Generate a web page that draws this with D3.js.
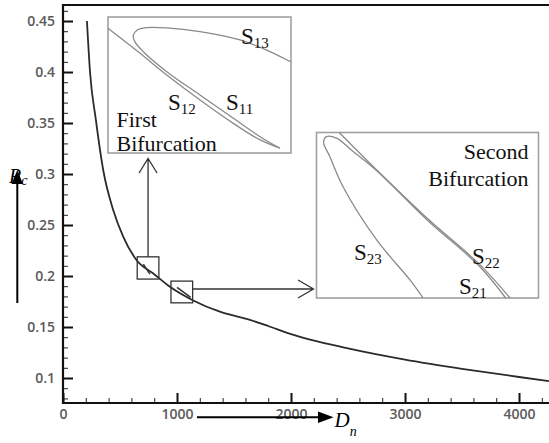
<!DOCTYPE html>
<html>
<head>
<meta charset="utf-8">
<title>Rc vs Dn bifurcation</title>
<script src="https://d3js.org/d3.v7.min.js"></script>
<style>
  body { margin: 0; background: #fff; }
  svg { display: block; }
</style>
</head>
<body>
<div id="chart"></div>
<script>
// main curve
const dn = [210, 237, 289, 353, 441, 529, 646, 792, 938, 1142, 1376, 1610, 1800, 2000, 2500, 3000, 3500, 4000, 4263];
const rc = [0.450, 0.400, 0.3526, 0.3037, 0.2645, 0.2384, 0.2155, 0.2025, 0.1894, 0.176, 0.165, 0.158, 0.151, 0.143, 0.129, 0.118, 0.109, 0.101, 0.097];

const xTickLabels = ["0", "1000", "2000", "3000", "4000"];
const yTickLabels = ["0.1", "0.15", "0.2", "0.25", "0.3", "0.35", "0.4", "0.45"];

// zoom windows on the main curve (Dn range, Rc range)
const box1Dn = [651, 841], box1Rc = [0.197, 0.2188];
const box2Dn = [947, 1137], box2Rc = [0.1737, 0.195];
// short side branch drawn inside each window
const spur1Dn = [704, 763], spur1Rc = [0.2117, 0.2019];
const spur2Dn = [1000, 1120], spur2Rc = [0.1888, 0.1790];

// inset curves in inset-local units (0..1 across, 0..1 down)
const in1LoopU = [0.998, 0.867, 0.721, 0.503, 0.321, 0.21, 0.16, 0.138, 0.148, 0.193, 0.321, 0.503, 0.683, 0.831, 0.94];
const in1LoopV = [0.329, 0.243, 0.169, 0.108, 0.080, 0.078, 0.095, 0.135, 0.185, 0.255, 0.402, 0.574, 0.743, 0.880, 0.965];
const in1LineU = [0.0, 0.175, 0.321, 0.503, 0.685, 0.831, 0.94];
const in1LineV = [0.083, 0.267, 0.426, 0.610, 0.782, 0.904, 0.965];

const in2LineU = [0.102, 0.271, 0.5, 0.737, 0.872];
const in2LineV = [0.0, 0.226, 0.52, 0.80, 1.0];
const in2LoopU = [0.48, 0.421, 0.271, 0.119, 0.060, 0.032, 0.045, 0.09, 0.165, 0.275, 0.5, 0.735, 0.852];
const in2LoopV = [1.0, 0.891, 0.649, 0.326, 0.145, 0.06, 0.025, 0.034, 0.115, 0.235, 0.53, 0.81, 1.0];

const width = 549, height = 443;
const svg = d3.select("#chart").append("svg")
    .attr("width", width)
    .attr("height", height);

const x = d3.scaleLinear().domain([0, 4263]).range([63, 549]);
const y = d3.scaleLinear().domain([0.0755, 0.4657]).range([403, 5]);

const tickFont = "'Open Sans', sans-serif";
const serif = "'Liberation Serif', 'Times New Roman', serif";

// minor ticks
const xMinor = d3.range(0, 4201, 200).filter(d => d % 1000 !== 0);
const yMinor = d3.range(8, 47).map(d => d / 100).filter(d => Math.round(d * 100) % 5 !== 0);

svg.append("g")
    .attr("transform", "translate(0,403)")
    .call(d3.axisBottom(x).tickValues(xMinor).tickSize(-5).tickFormat(""))
    .call(g => g.select(".domain").remove())
    .selectAll("line").attr("stroke", "#222").attr("stroke-width", 1);

svg.append("g")
    .attr("transform", "translate(63,0)")
    .call(d3.axisLeft(y).tickValues(yMinor).tickSize(-5).tickFormat(""))
    .call(g => g.select(".domain").remove())
    .selectAll("line").attr("stroke", "#222").attr("stroke-width", 1);

// major ticks + labels
const gx = svg.append("g")
    .attr("transform", "translate(0,403)")
    .call(d3.axisBottom(x).tickValues([0, 1000, 2000, 3000, 4000])
        .tickSize(-10).tickPadding(6)
        .tickFormat((d, i) => xTickLabels[i]));
gx.select(".domain").remove();
gx.selectAll("line").attr("stroke", "#111").attr("stroke-width", 2);
gx.selectAll("text").attr("font-family", tickFont).attr("font-size", 14)
    .attr("font-weight", 600).attr("fill", "#5a5a5a");

const gy = svg.append("g")
    .attr("transform", "translate(63,0)")
    .call(d3.axisLeft(y).tickValues([0.1, 0.15, 0.2, 0.25, 0.3, 0.35, 0.4, 0.45])
        .tickSize(-10).tickPadding(8)
        .tickFormat((d, i) => yTickLabels[i]));
gy.select(".domain").remove();
gy.selectAll("line").attr("stroke", "#111").attr("stroke-width", 2);
gy.selectAll("text").attr("font-family", tickFont).attr("font-size", 14)
    .attr("font-weight", 600).attr("fill", "#5a5a5a");

// frame (right side falls outside the picture)
svg.append("path")
    .attr("d", "M552,5H63V403H552")
    .attr("fill", "none")
    .attr("stroke", "#111")
    .attr("stroke-width", 2.2);

// main curve
const pts = dn.map((d, i) => [d, rc[i]]);
svg.append("path")
    .datum(pts)
    .attr("fill", "none")
    .attr("stroke", "#2b2b2b")
    .attr("stroke-width", 1.8)
    .attr("d", d3.line().x(d => x(d[0])).y(d => y(d[1])).curve(d3.curveMonotoneX));

// spurs
[[spur1Dn, spur1Rc], [spur2Dn, spur2Rc]].forEach(([a, b]) => {
  svg.append("path")
    .datum(a.map((d, i) => [d, b[i]]))
    .attr("fill", "none")
    .attr("stroke", "#333")
    .attr("stroke-width", 1.6)
    .attr("d", d3.line().x(d => x(d[0])).y(d => y(d[1])));
});

// zoom windows
[[box1Dn, box1Rc], [box2Dn, box2Rc]].forEach(([a, b]) => {
  svg.append("rect")
    .attr("x", x(a[0])).attr("y", y(b[1]))
    .attr("width", x(a[1]) - x(a[0]))
    .attr("height", y(b[0]) - y(b[1]))
    .attr("fill", "none")
    .attr("stroke", "#333")
    .attr("stroke-width", 1.3);
});

// arrows from windows to insets
const b1cx = x((box1Dn[0] + box1Dn[1]) / 2), b1top = y(box1Rc[1]);
svg.append("path")
    .attr("d", `M${b1cx},${b1top}V158.5 M${b1cx - 9},173 L${b1cx},158.5 L${b1cx + 9},173`)
    .attr("fill", "none").attr("stroke", "#333").attr("stroke-width", 1.3);

const b2right = x(box2Dn[1]), b2cy = 289;
svg.append("path")
    .attr("d", `M${b2right},${b2cy}H313.5 M298,280 L313.5,${b2cy} L298,298`)
    .attr("fill", "none").attr("stroke", "#333").attr("stroke-width", 1.3);

// insets
function inset(x0, y0, x1, y1, curves) {
  const u = d3.scaleLinear().domain([0, 1]).range([x0, x1]);
  const v = d3.scaleLinear().domain([0, 1]).range([y0, y1]);
  const g = svg.append("g");
  g.append("rect")
      .attr("x", x0).attr("y", y0)
      .attr("width", x1 - x0).attr("height", y1 - y0)
      .attr("fill", "#fff")
      .attr("stroke", "#a0a0a0")
      .attr("stroke-width", 1.6);
  curves.forEach(([us, vs]) => {
    g.append("path")
      .datum(us.map((d, i) => [d, vs[i]]))
      .attr("fill", "none")
      .attr("stroke", "#8a8a8a")
      .attr("stroke-width", 1.3)
      .attr("d", d3.line().x(d => u(d[0])).y(d => v(d[1])).curve(d3.curveCatmullRom));
  });
  return g;
}

const g1 = inset(108, 17, 291, 153, [[in1LoopU, in1LoopV], [in1LineU, in1LineV]]);
const g2 = inset(316.5, 132.5, 538.5, 298, [[in2LineU, in2LineV], [in2LoopU, in2LoopV]]);

function sLabel(g, px, py, sub) {
  const t = g.append("text")
      .attr("x", px).attr("y", py)
      .attr("font-family", serif).attr("font-size", 23)
      .attr("fill", "#111")
      .text("S");
  t.append("tspan").attr("font-size", 15).attr("dy", 4).text(sub);
}

sLabel(g1, 241, 44, "13");
sLabel(g1, 168, 110, "12");
sLabel(g1, 226, 110, "11");
g1.append("text").attr("x", 116.5).attr("y", 127)
    .attr("font-family", serif).attr("font-size", 22).attr("fill", "#111").text("First");
g1.append("text").attr("x", 116.5).attr("y", 151)
    .attr("font-family", serif).attr("font-size", 22).attr("fill", "#111").text("Bifurcation");

sLabel(g2, 354, 260, "23");
sLabel(g2, 472, 264, "22");
sLabel(g2, 459, 294, "21");
g2.append("text").attr("x", 528.5).attr("y", 159).attr("text-anchor", "end")
    .attr("font-family", serif).attr("font-size", 22).attr("fill", "#111").text("Second");
g2.append("text").attr("x", 528.5).attr("y", 185.5).attr("text-anchor", "end")
    .attr("font-family", serif).attr("font-size", 22).attr("fill", "#111").text("Bifurcation");

// axis titles with arrows
svg.append("line").attr("x1", 17.3).attr("x2", 17.3).attr("y1", 303).attr("y2", 180)
    .attr("stroke", "#000").attr("stroke-width", 2);
svg.append("path").attr("d", "M17.3,170 L11.5,184 L23,184 Z").attr("fill", "#000");
const rt = svg.append("text").attr("x", 9).attr("y", 183)
    .attr("font-family", serif).attr("font-style", "italic").attr("font-size", 20)
    .attr("fill", "#000").text("R");
rt.append("tspan").attr("font-size", 14).attr("dy", 2).text("c");

svg.append("line").attr("x1", 197).attr("x2", 320).attr("y1", 417.3).attr("y2", 417.3)
    .attr("stroke", "#000").attr("stroke-width", 2);
svg.append("path").attr("d", "M333.5,417.3 L318,411.5 L318,423 Z").attr("fill", "#000");
const dt = svg.append("text").attr("x", 334.5).attr("y", 427)
    .attr("font-family", serif).attr("font-style", "italic").attr("font-size", 21)
    .attr("fill", "#000").text("D");
dt.append("tspan").attr("font-size", 14).attr("dy", 9).text("n");
</script>
</body>
</html>
